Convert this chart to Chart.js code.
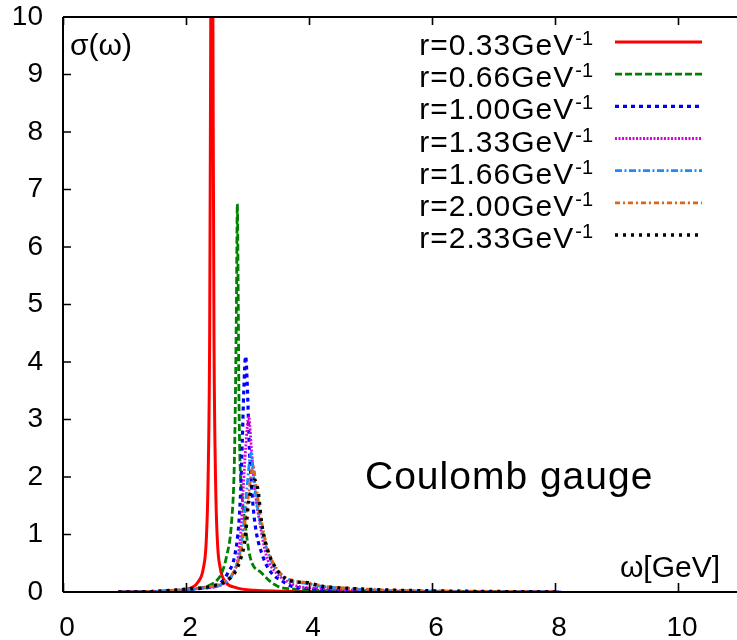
<!DOCTYPE html>
<html>
<head>
<meta charset="utf-8">
<script src="https://cdn.jsdelivr.net/npm/chart.js@4.4.1/dist/chart.umd.min.js"></script>
<style>
html,body{margin:0;padding:0;background:#fff;}
#wrap{width:737px;height:640px;}
</style>
</head>
<body>
<div id="wrap"><canvas id="c" width="737" height="640"></canvas></div>
<script>
// ---- data ----
const xTickValues = [0, 2, 4, 6, 8, 10];
const yTickValues = [0, 1, 2, 3, 4, 5, 6, 7, 8, 9, 10];
const legendLabels = ['r=0.33GeV', 'r=0.66GeV', 'r=1.00GeV', 'r=1.33GeV', 'r=1.66GeV', 'r=2.00GeV', 'r=2.33GeV'];
const legendSuperscript = '-1';

const omegaR033 = [0.9, 1.8, 2.1, 2.2, 2.28, 2.33, 2.36, 2.385, 2.40, 2.42, 2.44, 2.455, 2.48, 2.51, 2.56, 2.64, 2.8, 3.1, 4.0, 6.5, 8.0];
const sigmaR033 = [0, 0.02, 0.08, 0.18, 0.4, 0.9, 2.0, 4.5, 9.0, 16, 9.0, 4.5, 2.0, 0.9, 0.4, 0.18, 0.08, 0.03, 0.01, 0.005, 0];

const omegaR066 = [0.9, 1.5, 2.0, 2.2, 2.35, 2.5, 2.58, 2.66, 2.74, 2.785, 2.805, 2.82, 2.835, 2.85, 2.86, 2.875, 2.91, 2.96, 3.04, 3.23, 3.49, 3.8, 4.5, 6.0, 8.0];
const sigmaR066 = [0, 0.01, 0.03, 0.06, 0.1, 0.2, 0.33, 0.62, 1.2, 2.2, 3.5, 5.0, 6.75, 5.0, 3.5, 2.4, 1.7, 1.2, 0.62, 0.33, 0.1, 0.05, 0.02, 0.01, 0];

const omegaR100 = [0.9, 1.5, 2.0, 2.3, 2.47, 2.6, 2.68, 2.79, 2.86, 2.89, 2.915, 2.94, 2.97, 3.00, 3.03, 3.07, 3.12, 3.25, 3.39, 3.55, 3.72, 4.0, 4.5, 5.5, 8.1];
const sigmaR100 = [0, 0.01, 0.04, 0.07, 0.1, 0.2, 0.33, 0.62, 1.2, 1.78, 2.6, 3.5, 4.1, 3.5, 2.5, 1.78, 1.2, 0.62, 0.33, 0.2, 0.1, 0.06, 0.03, 0.01, 0];

const omegaR133 = [0.9, 1.5, 2.0, 2.3, 2.52, 2.68, 2.77, 2.85, 2.90, 2.93, 2.97, 3.02, 3.07, 3.12, 3.20, 3.31, 3.47, 3.62, 3.82, 4.1, 4.6, 5.5, 8.1];
const sigmaR133 = [0, 0.01, 0.04, 0.07, 0.1, 0.2, 0.33, 0.62, 1.2, 1.78, 2.5, 3.05, 2.4, 1.78, 1.2, 0.62, 0.33, 0.2, 0.1, 0.07, 0.04, 0.015, 0];

const omegaR166 = [0.9, 1.5, 2.0, 2.3, 2.55, 2.72, 2.8, 2.88, 2.94, 2.99, 3.06, 3.11, 3.16, 3.23, 3.33, 3.45, 3.6, 3.75, 3.95, 4.2, 4.6, 5.2, 6.0, 8.1];
const sigmaR166 = [0, 0.01, 0.04, 0.07, 0.12, 0.25, 0.4, 0.7, 1.2, 1.8, 2.42, 1.9, 1.5, 1.1, 0.7, 0.42, 0.25, 0.18, 0.15, 0.1, 0.06, 0.03, 0.015, 0];

const omegaR200 = [0.9, 1.5, 2.0, 2.3, 2.55, 2.72, 2.82, 2.9, 2.97, 3.03, 3.09, 3.14, 3.2, 3.27, 3.36, 3.48, 3.62, 3.8, 4.0, 4.25, 4.6, 5.2, 6.0, 8.1];
const sigmaR200 = [0, 0.01, 0.05, 0.08, 0.14, 0.27, 0.45, 0.75, 1.3, 1.8, 2.19, 1.85, 1.4, 1.0, 0.65, 0.4, 0.25, 0.19, 0.16, 0.1, 0.07, 0.035, 0.02, 0];

const omegaR233 = [0.9, 1.5, 2.0, 2.25, 2.41, 2.63, 2.79, 2.9, 2.96, 3.01, 3.06, 3.11, 3.17, 3.23, 3.31, 3.44, 3.61, 3.77, 3.99, 4.2, 4.55, 5.1, 6.0, 8.1];
const sigmaR233 = [0, 0.01, 0.05, 0.07, 0.1, 0.18, 0.33, 0.62, 0.91, 1.49, 1.8, 1.95, 1.78, 1.2, 0.79, 0.45, 0.24, 0.18, 0.16, 0.1, 0.07, 0.04, 0.02, 0];

// ---- build datasets ----
function pts(xs, ys){ return xs.map((v, i) => ({x: v, y: ys[i]})); }
const seriesX = [omegaR033, omegaR066, omegaR100, omegaR133, omegaR166, omegaR200, omegaR233];
const seriesY = [sigmaR033, sigmaR066, sigmaR100, sigmaR133, sigmaR166, sigmaR200, sigmaR233];
const styles = [
  {c:'#ff0000', d:[], w:3},
  {c:'#008000', d:[7,3], w:2.8},
  {c:'#0000ff', d:[4,4], w:3.2},
  {c:'#dd00dd', d:[2,1.5], w:2.8},
  {c:'#1a8cff', d:[7,2.5,2,2.5], w:2.8},
  {c:'#dd6611', d:[5,3,2,3], w:2.8},
  {c:'#000000', d:[3,5], w:3.4}
];
const datasets = seriesX.map((xs, i) => ({
  label: legendLabels[i],
  data: pts(xs, seriesY[i]),
  showLine: true,
  borderColor: styles[i].c,
  backgroundColor: styles[i].c,
  borderDash: styles[i].d,
  borderWidth: styles[i].w,
  pointRadius: 0,
  cubicInterpolationMode: 'monotone',
  fill: false
}));
datasets.reverse(); // draw red last (on top)

const FONT = '"Liberation Sans", Arial, Helvetica, sans-serif';

const decor = {
  id: 'decor',
  afterDatasetsDraw(chart){
    const {ctx, chartArea:{left, right, top, bottom}, scales:{x, y}} = chart;
    ctx.save();
    ctx.strokeStyle = '#000';
    ctx.lineWidth = 1.6;
    ctx.setLineDash([]);
    ctx.beginPath();
    xTickValues.forEach(v => {
      const px = Math.round(x.getPixelForValue(v)) + 0.5;
      ctx.moveTo(px, bottom); ctx.lineTo(px, bottom - 9);
      ctx.moveTo(px, top); ctx.lineTo(px, top + 8);
    });
    yTickValues.forEach(v => {
      const py = y.getPixelForValue(v);
      ctx.moveTo(left, py); ctx.lineTo(left + 8, py);
    });
    ctx.stroke();
    ctx.lineWidth = 2;
    ctx.beginPath();
    ctx.moveTo(left, top); ctx.lineTo(right, top);
    ctx.moveTo(left, top); ctx.lineTo(left, bottom);
    ctx.moveTo(left, bottom); ctx.lineTo(right, bottom);
    ctx.stroke();

    // axis titles and annotation
    ctx.fillStyle = '#000';
    ctx.textBaseline = 'alphabetic';
    ctx.font = '30px ' + FONT;
    ctx.textAlign = 'left';
    ctx.fillText('σ(ω)', 70, 55);
    ctx.textAlign = 'right';
    ctx.fillText('ω[GeV]', 720, 577);
    ctx.textAlign = 'left';
    ctx.font = '39px ' + FONT;
    ctx.letterSpacing = '1px';
    ctx.fillText('Coulomb gauge', 365, 489);

    // legend
    const order = chart.data.datasets.slice().reverse();
    order.forEach((ds, i) => {
      const base = 55 + 32.17 * i;
      const ly = 42 + 32.17 * i;
      ctx.letterSpacing = '0px';
      ctx.font = '20px ' + FONT;
      ctx.textAlign = 'right';
      const supW = ctx.measureText(legendSuperscript).width;
      ctx.fillText(legendSuperscript, 593, base - 10);
      ctx.font = '30px ' + FONT;
      ctx.letterSpacing = '1px';
      ctx.fillText(ds.label, 593 - supW - 1, base);
      ctx.letterSpacing = '0px';
      ctx.strokeStyle = ds.borderColor;
      ctx.lineWidth = ds.borderWidth;
      ctx.setLineDash(ds.borderDash);
      ctx.beginPath();
      ctx.moveTo(615, ly); ctx.lineTo(702, ly);
      ctx.stroke();
    });
    ctx.restore();
  }
};

new Chart(document.getElementById('c'), {
  type: 'scatter',
  data: { datasets },
  options: {
    responsive: false,
    animation: false,
    layout: { padding: { top: 17, left: 0, right: 0, bottom: 0 } },
    plugins: { legend: { display: false }, tooltip: { enabled: false } },
    scales: {
      x: {
        type: 'linear', min: 0, max: 10.96,
        grid: { display: false, drawTicks: false },
        border: { display: false },
        ticks: { color: '#000', font: { family: FONT, size: 28 }, padding: 19, labelOffset: 4, maxRotation: 0, autoSkip: false },
        afterBuildTicks: s => { s.ticks = xTickValues.map(v => ({ value: v })); },
        afterFit: s => { s.height = 48; s.paddingLeft = 0; s.paddingRight = 0; }
      },
      y: {
        type: 'linear', min: 0, max: 10,
        grid: { display: false, drawTicks: false },
        border: { display: false },
        ticks: { color: '#000', font: { family: FONT, size: 28 }, padding: 20, autoSkip: false },
        afterBuildTicks: s => { s.ticks = yTickValues.map(v => ({ value: v })); },
        afterFit: s => { s.width = 63; s.paddingTop = 0; s.paddingBottom = 0; }
      }
    }
  },
  plugins: [decor]
});
</script>
</body>
</html>
